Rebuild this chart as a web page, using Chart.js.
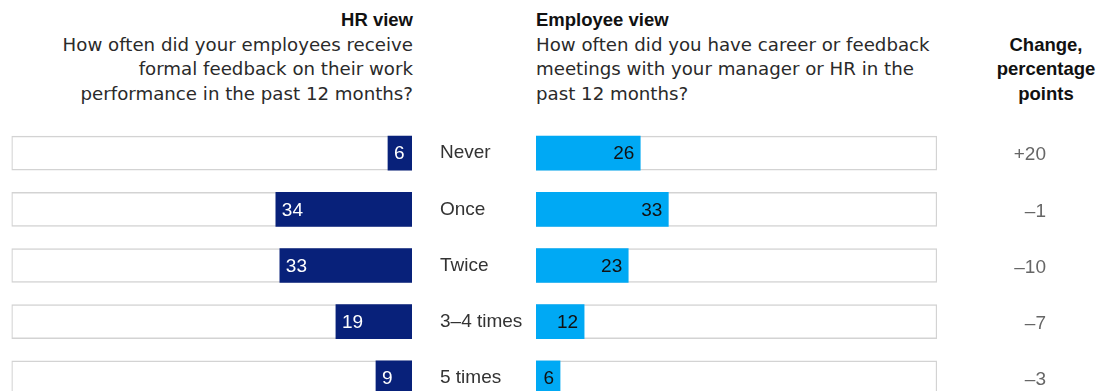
<!DOCTYPE html>
<html>
<head>
<meta charset="utf-8">
<script src="https://cdn.jsdelivr.net/npm/chart.js@4.4.0/dist/chart.umd.min.js"></script>
<style>
    html, body { margin: 0; padding: 0; background: #fff; }
    body {
        width: 1105px; height: 391px; overflow: hidden; position: relative;
        font-family: "Liberation Sans", Arial, sans-serif; color: #222;
    }
    .head {
        position: absolute; top: 8px; font-size: 18.2px; line-height: 24.5px; white-space: nowrap;
        font-family: "DejaVu Sans", sans-serif; color: #2a2a2a;
    }
    .head b, #chgHead { font-family: "Liberation Sans", Arial, sans-serif; font-size: 18.5px; color: #111; }
    #hrHead { right: 692px; text-align: right; }
    #empHead { left: 536px; }
    #chgHead { left: 986px; width: 120px; top: 32.5px; text-align: center; font-weight: bold; }
    canvas { position: absolute; top: 120px; }
    #hrChart { left: 0; }
    #empChart { left: 430px; }
</style>
</head>
<body>
<div class="head" id="hrHead"><b>HR view</b><br>How often did your employees receive<br>formal feedback on their work<br>performance in the past 12 months?</div>
<div class="head" id="empHead"><b>Employee view</b><br>How often did you have career or feedback<br>meetings with your manager or HR in the<br>past 12 months?</div>
<div class="head" id="chgHead">Change,<br>percentage<br>points</div>

<canvas id="hrChart" width="430" height="300"></canvas>
<canvas id="empChart" width="675" height="300"></canvas>

<script>
// Survey answers, % of respondents
var categories = ['Never', 'Once', 'Twice', '3–4 times', '5 times'];
var hrValues = [6, 34, 33, 19, 9];
var employeeValues = [26, 33, 23, 12, 6];
var changePoints = [20, -1, -10, -7, -3];
var trackValues = [100, 100, 100, 100, 100];

var NAVY = '#08217a';
var CYAN = '#00a9f4';
var TRACK_BORDER = '#d3d3d3';
var FONT = '"Liberation Sans", Arial, sans-serif';

function formatChange(v) {
    if (v > 0) return '+' + v;
    if (v < 0) return '–' + Math.abs(v);
    return '0';
}

// Writes the value inside each bar, at its start (HR) or its end (employee)
var barLabels = {
    id: 'barLabels',
    afterDatasetsDraw: function(chart, args, opts) {
        var ctx = chart.ctx;
        var meta = chart.getDatasetMeta(0);
        var values = chart.data.datasets[0].data;
        ctx.save();
        ctx.font = '19px ' + FONT;
        ctx.fillStyle = opts.color;
        ctx.textBaseline = 'middle';
        meta.data.forEach(function(bar, i) {
            if (opts.side === 'start') {
                ctx.textAlign = 'left';
                ctx.fillText(String(values[i]), bar.x + 6, bar.y + 1);
            } else {
                ctx.textAlign = 'right';
                ctx.fillText(String(values[i]), bar.x - 6, bar.y + 1);
            }
        });
        ctx.restore();
    }
};

// Change column on the far right, one entry per category row
var changeColumn = {
    id: 'changeColumn',
    afterDraw: function(chart) {
        var ctx = chart.ctx;
        var y = chart.scales.y;
        ctx.save();
        ctx.font = '19px ' + FONT;
        ctx.fillStyle = '#666';
        ctx.textAlign = 'right';
        ctx.textBaseline = 'middle';
        changePoints.forEach(function(v, i) {
            ctx.fillText(formatChange(v), 616, y.getPixelForValue(i) + 2);
        });
        ctx.restore();
    }
};

function datasets(values, color) {
    return [
        { data: values, backgroundColor: color, borderWidth: 0, barThickness: 34, order: 0 },
        { data: trackValues, backgroundColor: '#fff', borderColor: TRACK_BORDER, borderWidth: 1.5,
          borderSkipped: false, barThickness: 34, order: 1 }
    ];
}

var common = {
    indexAxis: 'y',
    responsive: false,
    animation: false,
    events: [],
    plugins: { legend: { display: false }, tooltip: { enabled: false } }
};

new Chart(document.getElementById('hrChart'), {
    type: 'bar',
    data: { labels: categories, datasets: datasets(hrValues, NAVY) },
    plugins: [barLabels],
    options: Object.assign({}, common, {
        datasets: { bar: { grouped: false } },
        layout: { padding: { left: 11.5, right: 18, top: 5, bottom: 14 } },
        scales: {
            x: { display: false, min: 0, max: 100, reverse: true },
            y: { display: false }
        },
        plugins: Object.assign({}, common.plugins, { barLabels: { side: 'start', color: '#fff' } })
    })
});

new Chart(document.getElementById('empChart'), {
    type: 'bar',
    data: { labels: categories, datasets: datasets(employeeValues, CYAN) },
    plugins: [barLabels, changeColumn],
    options: Object.assign({}, common, {
        datasets: { bar: { grouped: false } },
        layout: { padding: { left: 10, right: 168, top: 5, bottom: 14 } },
        scales: {
            x: { display: false, min: 0, max: 100 },
            y: {
                grid: { display: false },
                border: { display: false },
                ticks: { crossAlign: 'far', padding: 0, color: '#333', font: { family: FONT, size: 19 } },
                afterFit: function(scale) {
                    // fixed label column; no extra room above/below for the tick text
                    scale.width = 96;
                    scale.paddingTop = 0;
                    scale.paddingBottom = 0;
                }
            }
        },
        plugins: Object.assign({}, common.plugins, { barLabels: { side: 'end', color: '#111' } })
    })
});
</script>
</body>
</html>
